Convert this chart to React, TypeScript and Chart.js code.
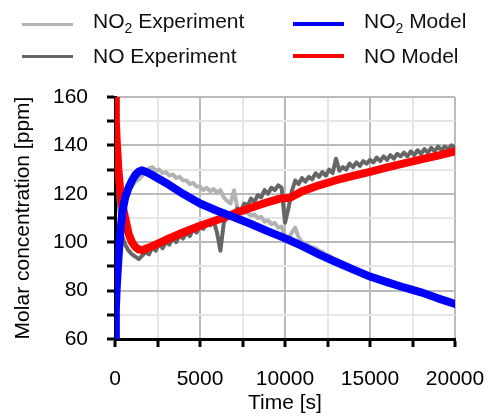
import React, { useEffect, useRef } from "react";
import { Chart, registerables } from "chart.js";

Chart.register(...registerables);

// ---- Data ----
const modelTime = [0, 50, 100, 200, 300, 400, 500, 600, 800, 1000, 1200, 1400, 1600, 2000, 3000, 4000, 5000, 6000, 7000, 8000, 9000, 9700, 10300, 11000, 12000, 13000, 14000, 15000, 16000, 17000, 18000, 19000, 20000];
const no2Model = [60, 72, 81, 93, 103, 110, 115, 118.5, 122.5, 125.5, 127.8, 129.2, 129.7, 128.5, 124.5, 120, 116, 113, 110.3, 107.5, 104.5, 102.5, 100.7, 98.5, 95, 91.8, 88.8, 85.8, 83.5, 81.3, 79.3, 76.8, 74.5];
const noModel = [160, 150, 142, 130, 122, 117, 113, 110, 103.5, 100, 98, 97, 96.7, 97.8, 101, 104, 106.8, 109.2, 111.8, 114.2, 116.6, 118, 118.4, 121, 123.5, 125.6, 127.4, 129.1, 130.9, 132.6, 134.2, 135.8, 137.5];

const expTime = [0, 200, 400, 600, 800, 1000, 1200, 1400, 1600, 1800, 2000, 2200, 2400, 2600, 2800, 3000, 3200, 3400, 3600, 3800, 4000, 4200, 4400, 4600, 4800, 5000, 5200, 5400, 5600, 5800, 6000, 6200, 6400, 6600, 6800, 7000, 7200, 7400, 7600, 7800, 8000, 8200, 8400, 8600, 8800, 9000, 9200, 9400, 9600, 9800, 10000, 10200, 10400, 10600, 10800, 11000, 11200, 11400, 11600, 11800, 12000, 12200, 12400, 12600, 12800, 13000, 13200, 13400, 13600, 13800, 14000, 14200, 14400, 14600, 14800, 15000, 15200, 15400, 15600, 15800, 16000, 16200, 16400, 16600, 16800, 17000, 17200, 17400, 17600, 17800, 18000, 18200, 18400, 18600, 18800, 19000, 19200, 19400, 19600, 19800, 20000];
const noExp = [160, 118, 103, 99, 96.5, 95, 94, 93, 94.5, 96, 95, 98, 96.5, 99.5, 97.5, 100, 99, 102, 100, 103, 101.5, 104, 102.5, 105.5, 104, 106.5, 105.5, 108, 107, 109, 104, 96.5, 108, 110.5, 112, 111.5, 114, 113, 116, 115, 118, 116.5, 119.5, 118.5, 121.5, 120, 122.5, 121.5, 123.5, 122.5, 108, 114, 121, 125.5, 124, 126.5, 125, 127, 126, 128.5, 127, 129, 127.5, 130, 128.5, 134.5, 129.5, 131, 130, 132.5, 131, 133, 131.5, 133.5, 132.5, 134, 133, 135, 133.5, 135.5, 134, 136, 134.5, 136.5, 135.5, 137, 135.5, 137.5, 136, 138, 136.5, 138.5, 137, 139, 137.5, 139.5, 138, 139.5, 138.5, 140, 139];
const no2Exp = [62, 98, 110, 117, 121, 123.5, 125, 126, 127.5, 129, 130.5, 131, 129.5, 130, 128.5, 129, 127.5, 128, 126.5, 127, 125.5, 125.5, 124, 124.5, 123, 123, 121.5, 122.5, 121, 122, 120.5, 121.5, 118.5, 117, 116, 121.5, 114, 113, 112.5, 112, 111, 111.5, 110, 110.5, 108.5, 109, 107.5, 108, 106, 106.5, 102.5, 101.5, 104, 106, 102, 100, 99.5, 98.5, 98, 97.5, 96.5, 96, 95, 94.5, 93.5, 93, 92, 91.5, 90.5, 90, 89, 88.5, 88, 87, 86.5, 86, 85.5, 85, 84.5, 84, 83.5, 83, 82.5, 82, 81.5, 81.5, 81, 80.5, 80, 79.5, 79.5, 79, 78.5, 78, 77.5, 77, 76.5, 76, 75.5, 75, 75];

const yMin = 60;
const yMax = 160;
const yStep = 10;
const yLabelEvery = 20;
const xMin = 0;
const xMax = 20000;
const xStep = 2500;
const xLabelEvery = 5000;

const FONT = "'Liberation Sans', Arial, sans-serif";
const FS = 21;
const C_NO2_EXP = "#b3b3b3";
const C_NO_EXP = "#666666";
const C_NO2_MOD = "#0000ff";
const C_NO_MOD = "#ff0000";

const pts = (xs: number[], ys: number[]) => xs.map((x, i) => ({ x, y: ys[i] }));

function LegendItem({ left, top, color, width, label }: { left: number; top: number; color: string; width: number; label: React.ReactNode }) {
  return (
    <div style={{ position: "absolute", left, top, height: 24, display: "flex", alignItems: "center" }}>
      <div style={{ width: 51, height: width, background: color }} />
      <div style={{ marginLeft: 20, fontFamily: FONT, fontSize: FS, color: "#111", whiteSpace: "nowrap", lineHeight: "24px" }}>{label}</div>
    </div>
  );
}

export default function App() {
  const ref = useRef<HTMLCanvasElement | null>(null);

  useEffect(() => {
    document.body.style.margin = "0";
    const canvas = ref.current!;
    const lineCommon = { pointRadius: 0, tension: 0, borderJoinStyle: "round" as const, borderCapStyle: "round" as const, fill: false };
    const chart = new Chart(canvas, {
      type: "line",
      data: {
        datasets: [
          { label: "NO2 Model", data: pts(modelTime, no2Model), borderColor: C_NO2_MOD, borderWidth: 8, order: 0, ...lineCommon },
          { label: "NO Model", data: pts(modelTime, noModel), borderColor: C_NO_MOD, borderWidth: 8, order: 1, ...lineCommon },
          { label: "NO Experiment", data: pts(expTime, noExp), borderColor: C_NO_EXP, borderWidth: 4, order: 2, ...lineCommon },
          { label: "NO2 Experiment", data: pts(expTime, no2Exp), borderColor: C_NO2_EXP, borderWidth: 4, order: 3, ...lineCommon },
        ],
      },
      options: {
        animation: false,
        responsive: false,
        devicePixelRatio: 1,
        layout: { padding: { top: 97, right: 31, left: 0, bottom: 0 } },
        plugins: { legend: { display: false }, tooltip: { enabled: false } },
        scales: {
          x: {
            type: "linear",
            min: xMin,
            max: xMax,
            afterFit: (s: any) => { s.height = 78; s.paddingRight = 0; s.paddingLeft = 0; },
            ticks: {
              stepSize: xStep,
              autoSkip: false,
              maxRotation: 0,
              padding: 20,
              color: "#000",
              font: { family: FONT, size: FS },
              callback: (v: any) => (Number(v) % xLabelEvery === 0 ? String(v) : ""),
            },
            grid: {
              color: (ctx: any) => (ctx.tick && ctx.tick.value % xLabelEvery === 0 ? "#bababa" : "#e6e6e6"),
              lineWidth: 2,
              tickColor: "#000",
              tickWidth: 3,
              tickLength: 8,
            },
            border: { color: "#000", width: 3 },
            title: { display: true, text: "Time [s]", color: "#000", font: { family: FONT, size: FS }, padding: { top: 0, bottom: 1 } },
          },
          y: {
            type: "linear",
            min: yMin,
            max: yMax,
            afterFit: (s: any) => { s.width = 115; s.paddingTop = 0; s.paddingBottom = 0; },
            ticks: {
              stepSize: yStep,
              autoSkip: false,
              padding: 19,
              color: "#000",
              font: { family: FONT, size: FS },
              callback: (v: any) => (Number(v) % yLabelEvery === 0 ? String(v) : ""),
            },
            grid: {
              color: (ctx: any) => (ctx.tick && ctx.tick.value % yLabelEvery === 0 ? "#bababa" : "#e6e6e6"),
              lineWidth: 2,
              tickColor: "#000",
              tickWidth: 3,
              tickLength: 8,
            },
            border: { color: "#000", width: 3 },
            title: { display: true, text: "Molar concentration [ppm]", color: "#000", font: { family: FONT, size: FS }, padding: { top: 11, bottom: 0 } },
          },
        },
      },
    } as any);
    return () => chart.destroy();
  }, []);

  return (
    <div style={{ position: "relative", width: 486, height: 417, background: "#fff" }}>
      <canvas ref={ref} width={486} height={417} style={{ position: "absolute", left: 0, top: 0 }} />
      <LegendItem left={22} top={12} color={C_NO2_EXP} width={3} label={<span>NO<sub style={{ fontSize: 14, verticalAlign: -5 }}>2</sub> Experiment</span>} />
      <LegendItem left={22} top={44} color={C_NO_EXP} width={3} label="NO Experiment" />
      <LegendItem left={293} top={12} color={C_NO2_MOD} width={4} label={<span>NO<sub style={{ fontSize: 14, verticalAlign: -5 }}>2</sub> Model</span>} />
      <LegendItem left={293} top={44} color={C_NO_MOD} width={4} label="NO Model" />
    </div>
  );
}
